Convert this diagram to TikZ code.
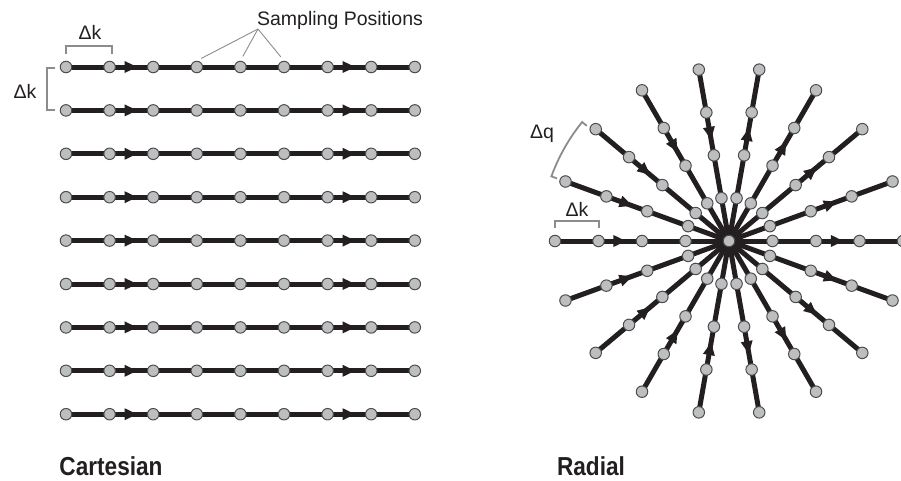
\documentclass[tikz,border=0pt]{standalone}
\usepackage{fontspec}
\setmainfont{Liberation Sans}
\newfontfamily\titlefont[FakeStretch=0.87]{Liberation Sans}
\usetikzlibrary{arrows.meta,decorations.markings}
\definecolor{ink}{HTML}{231F20}
\definecolor{dotfill}{HTML}{BCBEC0}
\definecolor{dotedge}{HTML}{4D4D4F}
\definecolor{bracket}{HTML}{8A8C8E}
\pgfdeclarelayer{bg}
\pgfsetlayers{bg,main}

\begin{document}
\begin{tikzpicture}[x=1pt,y=-1pt,
  sample/.style={circle,draw=dotedge,fill=dotfill,line width=1pt,minimum size=11.5pt,inner sep=0pt},
  traj/.style={draw=ink,line width=5pt,postaction={decorate},
    decoration={markings,
      mark=at position 0.205 with {\arrow{Triangle[length=13pt,width=11pt]}},
      mark=at position 0.83 with {\arrow{Triangle[length=13pt,width=11pt]}}}},
  brace/.style={draw=bracket,line width=2.6pt},
  lead/.style={draw=bracket,line width=0.9pt,shorten >=5pt},
  lbl/.style={font=\fontsize{19.5}{19.5}\selectfont,text=ink,inner sep=0pt},
  title/.style={font=\titlefont\bfseries\fontsize{26}{26}\selectfont,text=ink,inner sep=0pt}]

\useasboundingbox (0,0) rectangle (901,480);

% ---------- Cartesian sampling grid ----------
\foreach \r in {0,...,8} {
  \foreach \c in {0,...,8} {
    \node[sample] (g\r-\c) at ({66+43.6*\c},{67+43.4*\r}) {};
  }
  \begin{pgfonlayer}{bg}
    \draw[traj] (g\r-0.center) -- (g\r-8.center);
  \end{pgfonlayer}
}

% spacing brackets
\draw[brace] (66,54) -- (66,46) -- (112,46) -- (112,54);
\node[lbl] (dkx) at (90,32) {Δk};
\draw[brace] (55,68) -- (47,68) -- (47,110) -- (55,110);
\node[lbl] (dky) at (25,91) {Δk};

% sampling positions label with leader lines
\node[lbl,anchor=base] (sp) at (340,25) {Sampling Positions};
\coordinate (fork) at (258,29);
\draw[lead] (fork) -- (g0-3.north);
\draw[lead] (fork) -- (g0-4.north);
\draw[lead] (fork) -- (g0-5.north);

\node[title,anchor=base] (tc) at (111,475) {Cartesian};

% ---------- Radial sampling ----------
\node[sample] (c) at (729,241) {};
\foreach \a in {0,20,...,340} {
  \foreach \k in {1,...,4} {
    \node[sample] (s\a-\k) at ({729+43.5*\k*cos(\a)},{241-43.5*\k*sin(\a)}) {};
  }
}
\begin{pgfonlayer}{bg}
  \foreach \a in {100,120,...,260} {
    \pgfmathtruncatemacro\b{mod(\a+180,360)}
    \draw[traj] (s\a-4.center) -- (s\b-4.center);
  }
\end{pgfonlayer}

% radial spacing bracket
\draw[brace] (555,228) -- (555,221) -- (599,221) -- (599,228);
\node[lbl] (dkr) at (577,209) {Δk};

% angular spacing bracket
\draw[brace,line width=1.8pt]
  ({729+183*cos(141)},{241-183*sin(141)})
  -- plot[domain=141:160,samples=30] ({729+189*cos(\x)},{241-189*sin(\x)})
  -- ({729+183*cos(160)},{241-183*sin(160)});
\node[lbl] (dq) at (542,134) {Δq};

\node[title,anchor=base] (tr) at (591,475) {Radial};
\end{tikzpicture}
\end{document}
